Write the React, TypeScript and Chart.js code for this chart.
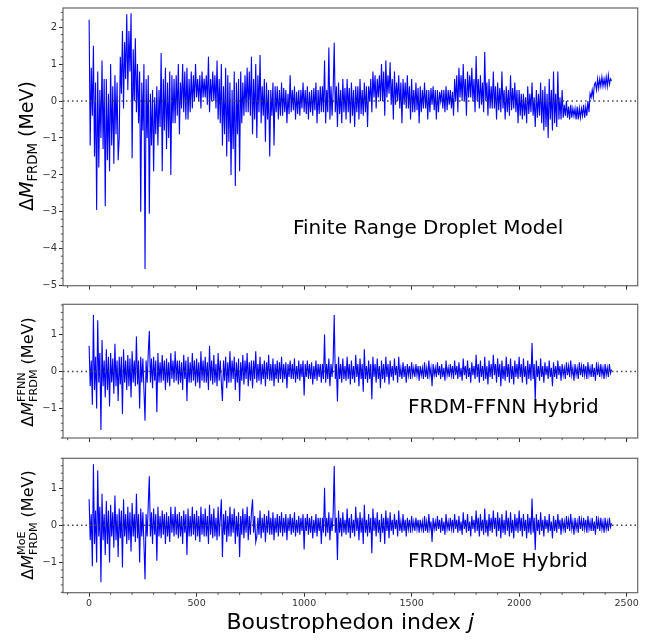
import React, { useEffect, useRef } from 'react';
import { Chart, registerables } from 'chart.js';

Chart.register(...registerables);

// Boustrophedon index j, sampled every J_STEP (j = 0, 5, 10, ... 2430)
const J_STEP = 5;

// FRDM residuals (MeV)
const FRDM = [
  2.2, -1.2, 0.9, -0.4, 1.5, -1.5, 0.5, -2.95, 0.8, -1.8, 0.3, -1.0, 1.1, -1.3, 0.6, -2.85, 0.6, -1.6, 0.2, -1.9,
  1.0, -1.2, 0.4, -1.7, 0.7, -0.9, 0.5, -1.6, -1.0, 1.2, 0.2, 1.9, -0.2, 1.6, 0.6, 2.35, 0.3, 1.9, 0.8, 2.38,
  -1.55, 1.4, 0.0, 1.7, -0.3, 1.0, -0.6, 0.8, -3.0, 0.5, -0.8, 1.0, -4.55, 0.6, -1.0, 0.7, -3.05, 0.2, -1.2, 0.3,
  -1.9, 0.1, -0.9, 0.4, -1.2, 0.3, -0.7, 1.3, -1.9, 0.6, -0.8, 0.9, -1.3, 0.5, -1.0, 0.8, -2.0, 0.7, -0.6, 0.6,
  -0.6, 0.7, -0.4, 1.0, -0.9, 0.5, -0.2, 1.0, -0.3, 0.8, -0.5, 0.9, -0.5, 0.6, -0.3, 0.8, -0.2, 0.7, 0.0, 1.0,
  0.1, 0.6, 0.0, 0.7, -0.2, 0.8, 0.1, 0.6, 0.1, 0.7, -0.1, 1.2, -0.3, 0.6, 0.0, 0.8, 0.0, 0.7, -0.2, 1.1,
  -0.5, 0.6, -0.6, 1.0, -1.2, 0.4, -0.9, 0.9, -1.5, 0.7, -1.1, 0.5, -2.0, 0.3, -1.3, 0.8, -2.3, 0.5, -0.9, 0.6,
  -1.9, 0.8, -0.6, 0.5, -0.4, 0.7, -0.3, 0.9, -0.3, 0.8, -0.4, 1.2, -0.9, 0.6, -0.5, 1.0, -1.0, 0.7, -0.3, 1.25,
  -0.6, 0.4, -0.4, 0.6, -1.1, 0.5, -0.5, 0.3, -1.5, 0.3, -0.4, 0.5, -1.2, 0.4, -0.3, 0.4, -0.5, 0.3, -0.4, 0.5,
  -0.4, 0.35, -0.3, 0.3, -0.6, 0.2, -0.35, 0.7, -0.3, 0.3, -0.25, 0.4, -0.5, 0.25, -0.35, 0.3, -0.4, 0.3, -0.2, 0.5,
  -0.3, 0.3, -0.35, 0.4, -0.5, 0.25, -0.3, 0.3, -0.4, 0.35, -0.25, 0.5, -0.6, 0.3, -0.35, 0.4, -0.3, 0.4, -0.3, 1.1,
  -0.6, 0.3, -0.3, 1.45, -0.5, 0.4, -0.4, 0.3, 1.58, -0.3, 0.4, -0.7, 0.5, -0.35, 0.3, -0.6, 0.6, -0.3, 0.35, -0.5,
  0.6, -0.3, 0.35, -0.6, 0.5, -0.4, 0.3, -0.7, 0.4, -0.3, 0.4, -0.5, 0.6, -0.35, 0.3, -0.4, 0.5, -0.3, 0.4, -0.7,
  0.4, 0.0, 0.6, -0.3, 0.8, 0.1, 0.7, -0.2, 0.6, 0.1, 0.7, 0.0, 1.0, 0.0, 0.8, -0.4, 1.1, 0.1, 0.7, 0.2,
  1.05, -0.1, 0.6, -0.5, 0.8, -0.1, 0.5, 0.0, 0.7, -0.2, 0.5, -0.6, 0.6, -0.1, 0.5, -0.2, 0.7, -0.2, 0.4, -0.5,
  0.6, -0.3, 0.3, -0.3, 0.5, -0.25, 0.35, -0.6, 0.4, -0.3, 0.3, -0.2, 0.5, -0.2, 0.3, -0.5, 0.3, -0.3, 0.35, -0.1,
  0.4, -0.25, 0.3, -0.5, 0.3, -0.3, 0.25, 0.0, 0.3, -0.2, 0.3, -0.3, 0.4, -0.25, 0.3, -0.1, 0.3, -0.2, 0.25, -0.4,
  0.6, 0.0, 0.7, -0.3, 0.9, 0.1, 0.7, 0.0, 1.0, 0.0, 0.6, -0.4, 0.8, 0.1, 0.7, 0.1, 0.9, 0.0, 0.6, -0.3,
  1.22, 0.0, 0.6, -0.2, 0.7, -0.1, 0.5, -0.3, 1.33, 0.0, 0.5, -0.4, 0.6, -0.2, 0.4, -0.2, 0.8, -0.2, 0.4, -0.5,
  0.5, -0.25, 0.35, -0.3, 0.8, -0.2, 0.3, -0.5, 0.4, -0.3, 0.3, -0.4, 0.7, -0.25, 0.35, -0.2, 0.5, -0.3, 0.3, -0.6,
  0.3, -0.4, 0.2, -0.5, 0.2, -0.4, 0.1, -0.6, 0.4, -0.35, 0.2, -0.3, 0.5, -0.4, 0.1, -0.7, 0.3, -0.45, 0.2, -0.4,
  0.5, -0.6, 0.3, -0.8, 0.4, -0.7, 0.2, -1.0, 0.6, -0.5, 0.3, -0.8, 0.8, -0.6, 0.2, -0.7, 0.8, -0.5, 0.1, -0.5,
  0.3, -0.45, -0.1, -0.4, 0.0, -0.45, -0.15, -0.5, -0.1, -0.45, -0.2, -0.4, -0.2, -0.5, -0.15, -0.5, -0.2, -0.45, -0.2, -0.4,
  -0.1, -0.45, -0.15, -0.4, 0.0, -0.3, 0.2, 0.1, 0.3, 0.1, 0.45, 0.5, 0.3, 0.6, 0.35, 0.6, 0.4, 0.65, 0.4, 0.6,
  0.4, 0.65, 0.4, 0.7, 0.45, 0.6, 0.55,
];

// FRDM-FFNN hybrid residuals (MeV)
const FFNN = [
  0.7, -0.4, 0.3, -0.9, 1.53, -0.5, 0.4, -1.0, 1.39, -0.3, 0.5, -1.58, 0.85, -0.4, 0.3, -0.7, 0.6, -0.5, 0.4, -0.95,
  0.5, -0.3, 0.35, -0.6, 0.75, -0.4, 0.3, -0.8, 0.4, -0.35, 0.4, -1.15, 0.6, -0.3, 0.3, -0.5, 0.45, -0.4, 0.35, -0.7,
  0.55, -0.3, 0.3, -0.4, 0.95, -0.35, 0.3, -1.0, 0.4, -0.3, 0.35, -0.5, -1.33, 0.3, -0.3, 0.5, 1.1, -0.3, 0.35, -0.45,
  0.4, -0.25, 0.3, -1.1, 0.5, -0.3, 0.25, -0.3, 0.45, -0.25, 0.3, -0.5, 0.35, -0.3, 0.25, -0.4, 0.5, -0.2, 0.3, -0.3,
  0.55, -0.25, 0.3, -0.35, 0.3, -0.3, 0.25, -0.5, 0.45, -0.2, 0.3, -0.8, 0.4, -0.3, 0.25, -0.3, 0.5, -0.25, 0.3, -0.4,
  0.35, -0.3, 0.25, -0.45, 0.55, -0.25, 0.3, -0.3, 0.4, -0.3, 0.25, -0.5, 0.7, -0.25, 0.3, -0.35, 0.45, -0.3, 0.2, -0.4,
  0.5, -0.25, 0.3, -0.3, -0.8, 0.3, -0.25, 0.4, -0.45, 0.25, -0.3, 0.55, -0.3, 0.3, -0.2, 0.4, -0.5, 0.25, -0.3, 0.35,
  -0.8, 0.25, -0.25, 0.45, -0.35, 0.3, -0.2, 0.5, -0.4, 0.25, -0.25, 0.3, -0.45, 0.3, -0.2, 0.55, -0.3, 0.2, -0.25, 0.4,
  -0.35, 0.2, -0.2, 0.3, -0.4, 0.25, -0.2, 0.45, -0.25, 0.2, -0.25, 0.35, -0.4, 0.2, -0.2, 0.3, -0.3, 0.25, -0.2, 0.4,
  -0.3, 0.2, -0.2, 0.25, -0.45, 0.2, -0.15, 0.3, -0.2, 0.2, -0.2, 0.35, -0.3, 0.15, -0.2, 0.3, -0.25, 0.2, -0.15, 0.3,
  -0.65, 0.2, -0.15, 0.3, -0.2, 0.2, -0.2, 0.25, -0.35, 0.15, -0.2, 0.3, -0.25, 0.2, -0.15, 0.2, -0.3, 0.2, -0.2, 1.0,
  -0.3, 0.2, -0.2, 0.35, -0.4, 0.2, -0.15, 0.3, 1.53, -0.2, 0.2, -0.81, 0.4, -0.2, 0.2, -0.3, 0.35, -0.2, 0.15, -0.25,
  0.4, -0.2, 0.2, -0.35, 0.3, -0.2, 0.15, -0.3, 0.45, -0.15, 0.2, -0.4, 0.35, -0.2, 0.2, -0.55, 0.6, -0.2, 0.15, -0.3,
  0.3, -0.2, 0.2, -0.75, 0.4, -0.15, 0.2, -0.3, 0.35, -0.2, 0.15, -0.45, 0.3, -0.2, 0.2, -0.3, 0.4, -0.15, 0.2, -0.35,
  0.3, -0.15, 0.15, -0.25, 0.35, -0.1, 0.15, -0.3, 0.4, -0.15, 0.1, -0.2, 0.25, -0.15, 0.15, -0.3, 0.2, -0.1, 0.15, -0.2,
  0.25, -0.1, 0.1, -0.15, 0.2, -0.1, 0.15, -0.25, 0.15, -0.1, 0.1, -0.2, 0.25, -0.15, 0.1, -0.2, 0.3, -0.1, 0.1, -0.4,
  0.2, -0.1, 0.1, -0.15, 0.25, -0.1, 0.15, -0.2, 0.2, -0.15, 0.1, -0.25, 0.3, -0.1, 0.1, -0.15, 0.2, -0.1, 0.15, -0.2,
  0.3, -0.1, 0.15, -0.2, 0.25, -0.15, 0.1, -0.25, 0.35, -0.1, 0.15, -0.2, 0.3, -0.15, 0.1, -0.3, 0.25, -0.1, 0.15, -0.2,
  0.45, -0.15, 0.2, -0.3, 0.3, -0.15, 0.15, -0.25, 0.4, -0.2, 0.15, -0.35, 0.3, -0.15, 0.2, -0.2, 0.45, -0.1, 0.2, -0.3,
  0.35, -0.15, 0.2, -0.4, 0.3, -0.2, 0.15, -0.25, 0.4, -0.15, 0.2, -0.3, 0.35, -0.2, 0.15, -0.35, 0.3, -0.15, 0.2, -0.2,
  0.4, -0.15, 0.2, -0.3, 0.35, -0.15, 0.15, -0.35, 0.3, -0.2, 0.2, -0.25, 0.77, -0.2, 0.2, -0.78, 0.3, -0.15, 0.15, -0.25,
  0.35, -0.15, 0.15, -0.3, 0.25, -0.1, 0.15, -0.2, 0.3, -0.15, 0.1, -0.4, 0.25, -0.15, 0.15, -0.2, 0.3, -0.1, 0.15, -0.25,
  0.2, -0.1, 0.1, -0.2, 0.25, -0.1, 0.15, -0.15, 0.3, -0.1, 0.1, -0.25, 0.2, -0.1, 0.1, -0.2, 0.25, -0.1, 0.15, -0.15,
  0.2, -0.1, 0.15, -0.2, 0.25, -0.1, 0.1, -0.15, 0.2, -0.15, 0.1, -0.25, 0.25, -0.1, 0.15, -0.15, 0.2, -0.1, 0.1, -0.2,
  0.2, -0.1, 0.1, -0.15, 0.2, -0.05, 0.05,
];

// FRDM-MoE hybrid residuals (MeV)
const MOE = [
  0.7, -0.4, 0.3, -1.1, 1.64, -0.5, 0.4, -1.0, 1.47, -0.3, 0.5, -1.53, 0.85, -0.4, 0.3, -0.8, 0.65, -0.5, 0.4, -1.0,
  0.55, -0.3, 0.35, -0.6, 0.8, -0.4, 0.3, -0.85, 0.45, -0.35, 0.4, -1.13, 0.7, -0.3, 0.3, -0.5, 0.5, -0.4, 0.35, -0.7,
  0.6, -0.3, 0.3, -0.45, 0.85, -0.35, 0.3, -1.0, 0.45, -0.3, 0.35, -0.5, -1.45, 0.3, -0.3, 0.55, 1.32, -0.3, 0.35, -0.5,
  0.45, -0.25, 0.3, -0.95, 0.5, -0.3, 0.25, -0.35, 0.4, -0.25, 0.3, -0.5, 0.35, -0.3, 0.25, -0.45, 0.5, -0.2, 0.3, -0.3,
  0.5, -0.25, 0.3, -0.35, 0.35, -0.3, 0.25, -0.5, 0.4, -0.2, 0.3, -0.8, 0.45, -0.3, 0.25, -0.3, 0.5, -0.25, 0.3, -0.4,
  0.4, -0.3, 0.25, -0.45, 0.5, -0.25, 0.3, -0.3, 0.45, -0.3, 0.25, -0.5, 0.55, -0.25, 0.3, -0.35, 0.45, -0.3, 0.2, -0.4,
  0.5, -0.3, 0.2, 0.7, -0.85, 0.3, -0.25, 0.4, -0.45, 0.25, -0.3, 0.5, -0.3, 0.3, -0.2, 0.45, -0.5, 0.25, -0.3, 0.35,
  -0.85, 0.25, -0.25, 0.45, -0.35, 0.3, -0.2, 0.5, -0.4, 0.25, -0.25, 0.35, 0.7, -0.2, 0.25, -0.45, -0.3, 0.2, -0.25, 0.4,
  -0.35, 0.2, -0.2, 0.3, -0.45, 0.25, -0.2, 0.4, -0.25, 0.2, -0.25, 0.35, -0.4, 0.2, -0.2, 0.3, -0.3, 0.25, -0.2, 0.35,
  -0.3, 0.2, -0.2, 0.3, -0.4, 0.2, -0.15, 0.3, -0.25, 0.2, -0.2, 0.35, -0.3, 0.15, -0.2, 0.25, -0.25, 0.2, -0.15, 0.3,
  -0.65, 0.2, -0.15, 0.3, -0.25, 0.2, -0.2, 0.25, -0.35, 0.15, -0.2, 0.3, -0.3, 0.2, -0.15, 0.2, -0.5, 0.2, -0.2, 1.01,
  -0.3, 0.2, -0.2, 0.35, -0.4, 0.2, -0.15, 0.3, 1.59, -0.2, 0.2, -0.93, 0.4, -0.2, 0.2, -0.3, 0.35, -0.2, 0.15, -0.25,
  0.45, -0.2, 0.2, -0.35, 0.3, -0.2, 0.15, -0.3, 0.5, -0.15, 0.2, -0.4, 0.35, -0.2, 0.2, -0.5, 0.55, -0.2, 0.15, -0.3,
  0.3, -0.2, 0.2, -0.75, 0.45, -0.15, 0.2, -0.3, 0.35, -0.2, 0.15, -0.45, 0.3, -0.2, 0.2, -0.5, 0.4, -0.15, 0.2, -0.35,
  0.35, -0.15, 0.15, -0.25, 0.3, -0.1, 0.15, -0.3, 0.4, -0.15, 0.1, -0.2, 0.3, -0.15, 0.15, -0.3, 0.2, -0.1, 0.15, -0.2,
  0.25, -0.1, 0.1, -0.15, 0.2, -0.1, 0.15, -0.2, 0.15, -0.1, 0.1, -0.2, 0.25, -0.15, 0.1, -0.2, 0.3, -0.1, 0.1, -0.45,
  0.2, -0.1, 0.1, -0.15, 0.25, -0.1, 0.15, -0.2, 0.2, -0.15, 0.1, -0.25, 0.3, -0.1, 0.1, -0.15, 0.2, -0.1, 0.15, -0.2,
  0.3, -0.1, 0.15, -0.2, 0.25, -0.15, 0.1, -0.25, 0.35, -0.1, 0.15, -0.2, 0.3, -0.15, 0.1, -0.3, 0.25, -0.1, 0.15, -0.2,
  0.4, -0.15, 0.2, -0.3, 0.3, -0.15, 0.15, -0.25, 0.45, -0.2, 0.15, -0.3, 0.3, -0.15, 0.2, -0.2, 0.4, -0.1, 0.2, -0.3,
  0.35, -0.15, 0.2, -0.35, 0.3, -0.2, 0.15, -0.25, 0.4, -0.15, 0.2, -0.3, 0.35, -0.2, 0.15, -0.35, 0.3, -0.15, 0.2, -0.2,
  0.4, -0.15, 0.2, -0.3, 0.3, -0.15, 0.15, -0.35, 0.3, -0.2, 0.2, -0.25, 0.72, -0.2, 0.2, -0.66, 0.3, -0.15, 0.15, -0.25,
  0.35, -0.15, 0.15, -0.3, 0.25, -0.1, 0.15, -0.2, 0.3, -0.15, 0.1, -0.35, 0.25, -0.15, 0.15, -0.2, 0.3, -0.1, 0.15, -0.25,
  0.2, -0.1, 0.1, -0.2, 0.25, -0.1, 0.15, -0.15, 0.3, -0.1, 0.1, -0.25, 0.2, -0.1, 0.1, -0.2, 0.25, -0.1, 0.15, -0.15,
  0.2, -0.1, 0.15, -0.2, 0.25, -0.1, 0.1, -0.15, 0.2, -0.15, 0.1, -0.25, 0.25, -0.1, 0.15, -0.15, 0.2, -0.1, 0.1, -0.2,
  0.2, -0.1, 0.1, -0.15, 0.2, -0.05, 0.05,
];

const X_TICKS = [0, 500, 1000, 1500, 2000, 2500];
const X_MINOR = [-100, 100, 200, 300, 400, 600, 700, 800, 900, 1100, 1200, 1300, 1400, 1600, 1700, 1800, 1900, 2100, 2200, 2300, 2400, 2500];
const Y_TICKS_TOP = [-5, -4, -3, -2, -1, 0, 1, 2];
const Y_TICKS_SMALL = [-1, 0, 1];

const FONT = '"DejaVu Sans", "Liberation Sans", sans-serif';

type Seg = { t?: string; italic?: boolean; sub?: string; sup?: string };

function drawRotatedRich(ctx: CanvasRenderingContext2D, segs: Seg[], baseX: number, cy: number, size: number) {
  const small = size * 0.7;
  const f = (s: number, it?: boolean) => `${it ? 'italic ' : ''}${s}px ${FONT}`;
  const widths = segs.map((s) => {
    if (s.t !== undefined) {
      ctx.font = f(size, s.italic);
      return ctx.measureText(s.t).width;
    }
    ctx.font = f(small);
    return Math.max(s.sub ? ctx.measureText(s.sub).width : 0, s.sup ? ctx.measureText(s.sup).width : 0);
  });
  const total = widths.reduce((a, b) => a + b, 0);
  ctx.save();
  ctx.translate(baseX, cy);
  ctx.rotate(-Math.PI / 2);
  ctx.fillStyle = '#000';
  ctx.textBaseline = 'alphabetic';
  ctx.textAlign = 'left';
  let x = -total / 2;
  segs.forEach((s, i) => {
    if (s.t !== undefined) {
      ctx.font = f(size, s.italic);
      ctx.fillText(s.t, x, 0);
    } else {
      ctx.font = f(small);
      if (s.sub) ctx.fillText(s.sub, x, size * 0.22);
      if (s.sup) ctx.fillText(s.sup, x, -size * 0.48);
    }
    x += widths[i];
  });
  ctx.restore();
}

type PanelOpts = {
  height: number;
  padTop: number;
  xAxisH: number;
  yMin: number;
  yMax: number;
  yTicks: number[];
  yMinorStep: number;
  showXLabels: boolean;
  note: string;
  noteX: number;
  noteY: number;
  title: Seg[];
  titleSize: number;
  titleX: number;
  titleCY: number;
  xTitleY?: number;
};

const panelPlugin = {
  id: 'panelDecor',
  afterDatasetsDraw(chart: any, _args: any, o: PanelOpts) {
    const { ctx, chartArea: a, scales } = chart;
    const xs = scales.x;
    const ys = scales.y;
    ctx.save();
    // zero line
    const y0 = ys.getPixelForValue(0);
    ctx.strokeStyle = '#444';
    ctx.lineWidth = 1.5;
    ctx.setLineDash([1.5, 3]);
    ctx.beginPath();
    ctx.moveTo(a.left, y0);
    ctx.lineTo(a.right, y0);
    ctx.stroke();
    ctx.setLineDash([]);
    // frame
    ctx.strokeStyle = '#666';
    ctx.lineWidth = 1.2;
    ctx.strokeRect(a.left, a.top, a.right - a.left, a.bottom - a.top);
    // minor ticks
    ctx.strokeStyle = '#333';
    ctx.lineWidth = 0.8;
    ctx.beginPath();
    X_MINOR.forEach((v) => {
      const px = xs.getPixelForValue(v);
      ctx.moveTo(px, a.bottom);
      ctx.lineTo(px, a.bottom + 2.2);
    });
    const n = Math.round((o.yMax - o.yMin) / o.yMinorStep) + 2;
    for (let k = 0; k < n; k++) {
      const v = Math.ceil(o.yMin / o.yMinorStep) * o.yMinorStep + k * o.yMinorStep;
      if (v > o.yMax) break;
      if (Math.abs(v - Math.round(v)) < 1e-6) continue;
      const py = ys.getPixelForValue(v);
      ctx.moveTo(a.left, py);
      ctx.lineTo(a.left - 2.2, py);
    }
    ctx.stroke();
    // annotation
    ctx.fillStyle = '#000';
    ctx.font = `20px ${FONT}`;
    ctx.textAlign = 'left';
    ctx.textBaseline = 'middle';
    ctx.fillText(o.note, o.noteX, o.noteY);
    // y title
    drawRotatedRich(ctx, o.title, o.titleX, o.titleCY, o.titleSize);
    // x title
    if (o.xTitleY !== undefined) {
      ctx.font = `22px ${FONT}`;
      const t1 = 'Boustrophedon index ';
      const w1 = ctx.measureText(t1).width;
      ctx.font = `italic 22px ${FONT}`;
      const w2 = ctx.measureText('j').width;
      const cx = (a.left + a.right) / 2;
      const x = cx - (w1 + w2) / 2;
      ctx.textAlign = 'left';
      ctx.textBaseline = 'middle';
      ctx.font = `22px ${FONT}`;
      ctx.fillText(t1, x, o.xTitleY);
      ctx.font = `italic 22px ${FONT}`;
      ctx.fillText('j', x + w1, o.xTitleY);
    }
    ctx.restore();
  },
};

const fmt = (v: number) => (v < 0 ? '\u2212' + Math.abs(v) : String(v));

function makeConfig(values: number[], o: PanelOpts): any {
  const pts = values.map((v, i) => ({ x: i * J_STEP, y: v }));
  return {
    type: 'line',
    data: {
      datasets: [
        {
          data: pts,
          borderColor: '#0000ff',
          borderWidth: 1.1,
          pointRadius: 0,
          tension: 0,
          fill: false,
        },
      ],
    },
    options: {
      animation: false,
      responsive: false,
      maintainAspectRatio: false,
      events: [],
      layout: { padding: { left: 0, right: 22.3, top: o.padTop, bottom: 0 } },
      plugins: {
        legend: { display: false },
        tooltip: { enabled: false },
        panelDecor: o,
      },
      scales: {
        x: {
          type: 'linear',
          min: -121.5,
          max: 2551.5,
          afterBuildTicks: (s: any) => {
            s.ticks = X_TICKS.map((v) => ({ value: v }));
          },
          afterFit: (s: any) => {
            s.height = o.xAxisH;
          },
          grid: { drawOnChartArea: false, drawTicks: true, tickLength: 4, tickColor: '#333', tickWidth: 1 },
          border: { display: false },
          ticks: {
            display: o.showXLabels,
            color: '#333',
            font: { family: FONT, size: 9.5 },
            padding: 1,
            maxRotation: 0,
            autoSkip: false,
            callback: (v: number) => String(v),
          },
        },
        y: {
          type: 'linear',
          min: o.yMin,
          max: o.yMax,
          afterBuildTicks: (s: any) => {
            s.ticks = o.yTicks.map((v) => ({ value: v }));
          },
          afterFit: (s: any) => {
            s.width = 63;
          },
          grid: { drawOnChartArea: false, drawTicks: true, tickLength: 4, tickColor: '#333', tickWidth: 1 },
          border: { display: false },
          ticks: {
            color: '#333',
            font: { family: FONT, size: 10 },
            padding: 2,
            autoSkip: false,
            callback: (v: number) => fmt(v),
          },
        },
      },
    },
    plugins: [panelPlugin],
  };
}

const PANELS: { top: number; values: number[]; opts: PanelOpts }[] = [
  {
    top: 0,
    values: FRDM,
    opts: {
      height: 296,
      padTop: 5,
      xAxisH: 10.3,
      yMin: -5,
      yMax: 2.52,
      yTicks: Y_TICKS_TOP,
      yMinorStep: 0.2,
      showXLabels: false,
      note: 'Finite Range Droplet Model',
      noteX: 293,
      noteY: 229,
      title: [{ t: 'Δ' }, { t: 'M', italic: true }, { sub: 'FRDM' }, { t: ' (MeV)' }],
      titleSize: 19,
      titleX: 33,
      titleCY: 146,
    },
  },
  {
    top: 296,
    values: FFNN,
    opts: {
      height: 150,
      padTop: 8.3,
      xAxisH: 7,
      yMin: -1.8,
      yMax: 1.82,
      yTicks: Y_TICKS_SMALL,
      yMinorStep: 0.2,
      showXLabels: false,
      note: 'FRDM-FFNN Hybrid',
      noteX: 408,
      noteY: 111.7,
      title: [{ t: 'Δ' }, { t: 'M', italic: true }, { sub: 'FRDM', sup: 'FFNN' }, { t: ' (MeV)' }],
      titleSize: 16,
      titleX: 33,
      titleCY: 76,
    },
  },
  {
    top: 446,
    values: MOE,
    opts: {
      height: 196,
      padTop: 12.3,
      xAxisH: 49.3,
      yMin: -1.81,
      yMax: 1.8,
      yTicks: Y_TICKS_SMALL,
      yMinorStep: 0.2,
      showXLabels: true,
      note: 'FRDM-MoE Hybrid',
      noteX: 408,
      noteY: 115.7,
      title: [{ t: 'Δ' }, { t: 'M', italic: true }, { sub: 'FRDM', sup: 'MoE' }, { t: ' (MeV)' }],
      titleSize: 16,
      titleX: 33,
      titleCY: 79,
      xTitleY: 177.3,
    },
  },
];

export default function App() {
  const refs = [useRef<HTMLCanvasElement>(null), useRef<HTMLCanvasElement>(null), useRef<HTMLCanvasElement>(null)];
  useEffect(() => {
    const charts = PANELS.map((p, i) => new Chart(refs[i].current as HTMLCanvasElement, makeConfig(p.values, p.opts)));
    return () => charts.forEach((c) => c.destroy());
  }, []);
  return (
    <div style={{ position: 'absolute', left: 0, top: 0, width: 660, height: 642, background: '#fff' }}>
      {PANELS.map((p, i) => (
        <canvas
          key={i}
          ref={refs[i]}
          width={660}
          height={p.opts.height}
          style={{ position: 'absolute', left: 0, top: p.top, width: 660, height: p.opts.height }}
        />
      ))}
    </div>
  );
}
